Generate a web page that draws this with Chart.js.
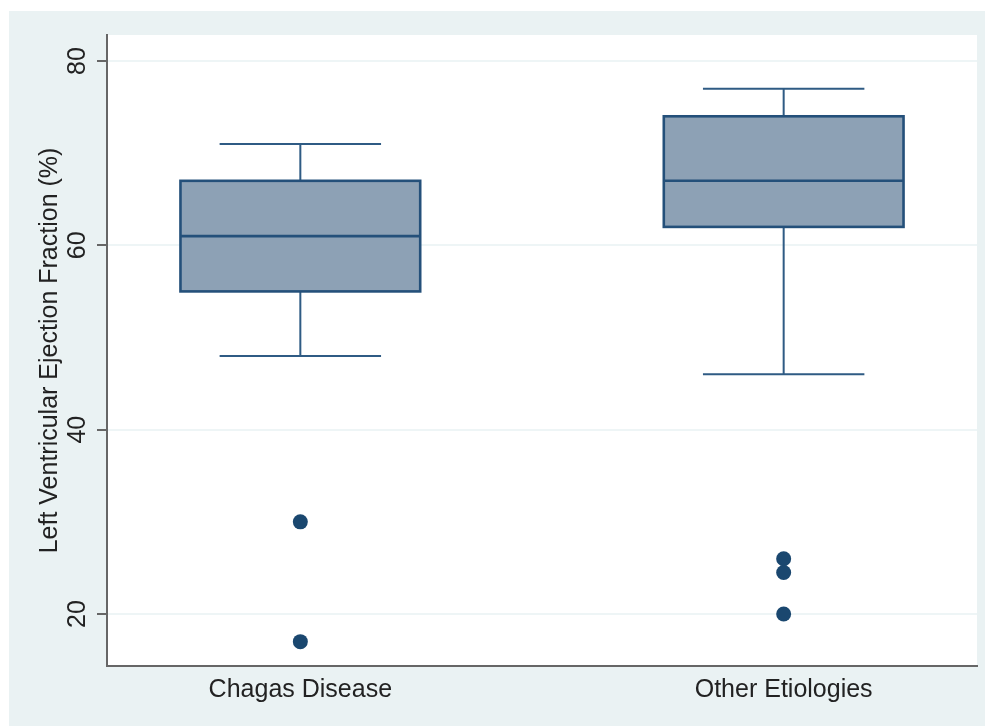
<!DOCTYPE html>
<html>
<head>
<meta charset="utf-8">
<script src="https://cdn.jsdelivr.net/npm/chart.js@4/dist/chart.umd.min.js"></script>
<style>
  html, body { margin: 0; padding: 0; background: #ffffff; }
  #wrap { width: 985px; height: 726px; }
</style>
</head>
<body>
<div id="wrap"><canvas id="chartCanvas" width="985" height="726"></canvas></div>
<script>
const categories = ["Chagas Disease", "Other Etiologies"];
const whiskerLow = [48, 46];
const q1 = [55, 62];
const median = [61, 67];
const q3 = [67, 74];
const whiskerHigh = [71, 77];
const outliers = [[30, 17], [26, 24.5, 20]];
const yTicks = [20, 40, 60, 80];

const navy = "#1a476f";
const boxFill = "#8da1b5";
const bgColor = "#eaf2f3";
const fontFamily = "'Liberation Sans', Arial, sans-serif";

// outlier points as {x, y}
const outlierPoints = [];
outliers.forEach(function (vals, i) {
    vals.forEach(function (v) { outlierPoints.push({ x: i + 1, y: v }); });
});

const boxPlugin = {
    id: "boxes",
    beforeDraw: function (chart) {
        const c = chart.ctx;
        const a = chart.chartArea;
        c.save();
        c.fillStyle = bgColor;
        c.fillRect(9, 11, 976, 715);
        c.fillStyle = "#ffffff";
        c.fillRect(a.left, a.top, a.right - a.left, a.bottom - a.top);
        c.restore();
    },
    beforeDatasetsDraw: function (chart) {
        const c = chart.ctx;
        const xs = chart.scales.x;
        const ys = chart.scales.y;
        c.save();
        categories.forEach(function (cat, i) {
            const x = i + 1;
            const bl = xs.getPixelForValue(x - 0.248);
            const br = xs.getPixelForValue(x + 0.248);
            const cl = xs.getPixelForValue(x - 0.167);
            const cr = xs.getPixelForValue(x + 0.167);
            const cx = xs.getPixelForValue(x);
            // whiskers
            c.strokeStyle = "#2f5b84";
            c.lineWidth = 2;
            c.beginPath();
            c.moveTo(cx, ys.getPixelForValue(q3[i]));
            c.lineTo(cx, ys.getPixelForValue(whiskerHigh[i]));
            c.moveTo(cl, ys.getPixelForValue(whiskerHigh[i]));
            c.lineTo(cr, ys.getPixelForValue(whiskerHigh[i]));
            c.moveTo(cx, ys.getPixelForValue(q1[i]));
            c.lineTo(cx, ys.getPixelForValue(whiskerLow[i]));
            c.moveTo(cl, ys.getPixelForValue(whiskerLow[i]));
            c.lineTo(cr, ys.getPixelForValue(whiskerLow[i]));
            c.stroke();
            // box
            const top = ys.getPixelForValue(q3[i]);
            const bot = ys.getPixelForValue(q1[i]);
            c.fillStyle = boxFill;
            c.fillRect(bl, top, br - bl, bot - top);
            c.strokeStyle = "#24507a";
            c.lineWidth = 2.6;
            c.strokeRect(bl, top, br - bl, bot - top);
            c.beginPath();
            c.moveTo(bl, ys.getPixelForValue(median[i]));
            c.lineTo(br, ys.getPixelForValue(median[i]));
            c.stroke();
        });
        c.restore();
    },
    afterDraw: function (chart) {
        // rotated y tick labels
        const c = chart.ctx;
        const ys = chart.scales.y;
        c.save();
        c.fillStyle = "#222222";
        c.font = "25px " + fontFamily;
        c.textAlign = "center";
        c.textBaseline = "middle";
        yTicks.forEach(function (t) {
            c.save();
            c.translate(78, ys.getPixelForValue(t));
            c.rotate(-Math.PI / 2);
            c.fillText(String(t), 0, 0);
            c.restore();
        });
        c.restore();
    }
};

const ctx = document.getElementById("chartCanvas").getContext("2d");

const config = {
    type: "scatter",
    data: {
        datasets: [
            {
                label: "Outliers",
                data: outlierPoints,
                pointRadius: 7.5,
                backgroundColor: navy,
                borderColor: navy,
                borderWidth: 0
            }
        ]
    },
    options: {
        responsive: false,
        animation: false,
        layout: { padding: { top: 35, right: 8, left: 0, bottom: 0 } },
        scales: {
            x: {
                type: "linear",
                min: 0.6,
                max: 2.4,
                afterFit: function (scale) { scale.height = 60; },
                ticks: {
                    stepSize: 1,
                    includeBounds: false,
                    padding: 9,
                    color: "#222222",
                    font: { family: fontFamily, size: 25 },
                    callback: function (v) { return categories[v - 1] || ""; }
                },
                grid: { display: false, drawTicks: false },
                border: { color: "#666666", width: 2 }
            },
            y: {
                min: 14.36,
                max: 82.82,
                afterFit: function (scale) { scale.width = 107; },
                afterBuildTicks: function (scale) {
                    scale.ticks = yTicks.map(function (v) { return { value: v }; });
                },
                ticks: { display: false },
                grid: {
                    color: "#eef5f6",
                    lineWidth: 2,
                    drawTicks: true,
                    tickLength: 10,
                    tickColor: "#666666"
                },
                border: { color: "#666666", width: 2 },
                title: {
                    display: true,
                    align: "center",
                    text: "Left Ventricular Ejection Fraction (%)",
                    color: "#222222",
                    font: { family: fontFamily, size: 25 },
                    padding: { top: 35, bottom: 0 }
                }
            }
        },
        plugins: {
            legend: { display: false },
            tooltip: { enabled: false }
        }
    },
    plugins: [boxPlugin]
};

const chart = new Chart(ctx, config);
</script>
</body>
</html>
